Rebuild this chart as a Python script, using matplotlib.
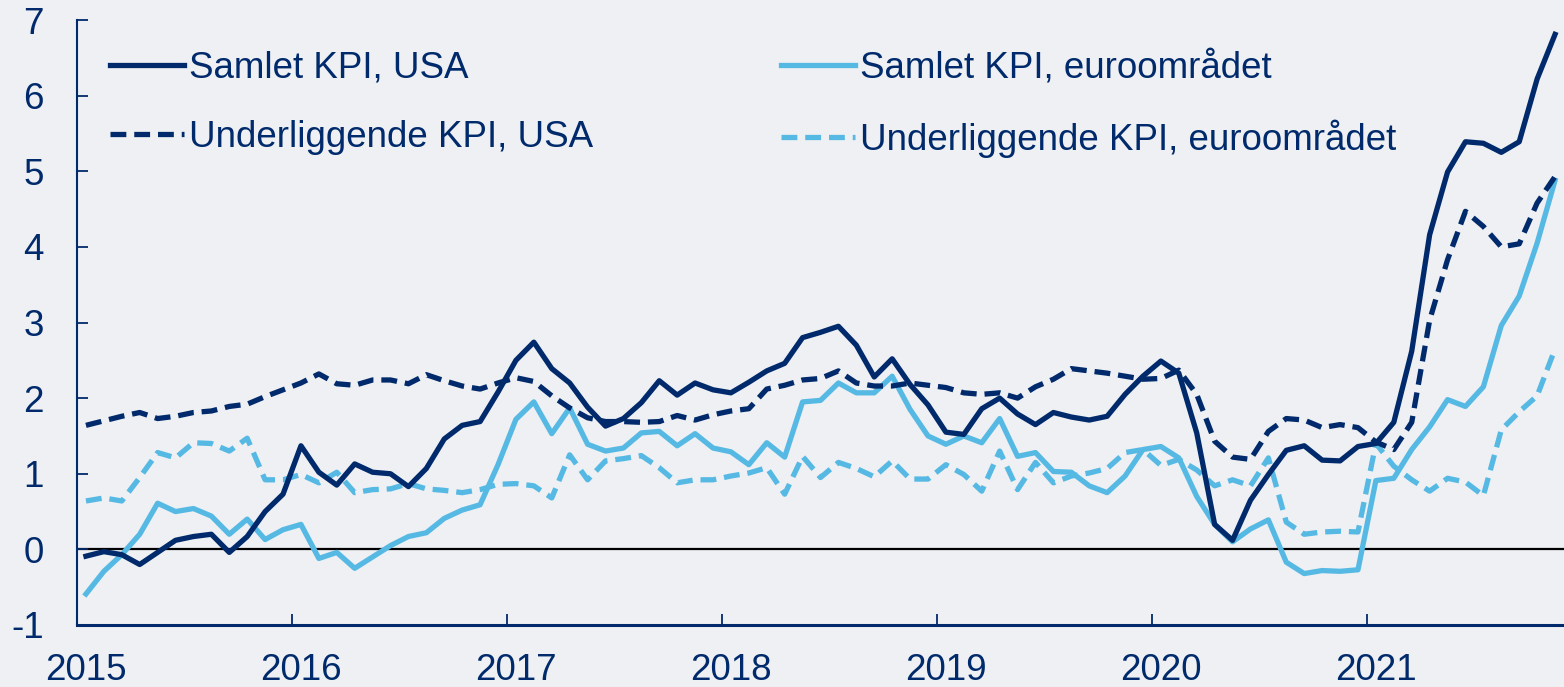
import numpy as np
from matplotlib import pyplot as plt

# monthly data, Jan 2015 - Nov 2021
years = ['2015', '2016', '2017', '2018', '2019', '2020', '2021']

us_total = [-0.09, -0.03, -0.07, -0.2, -0.04, 0.12, 0.17, 0.2, -0.04, 0.17, 0.5, 0.73,
            1.37, 1.02, 0.85, 1.13, 1.02, 1.0, 0.83, 1.07, 1.46, 1.64, 1.69, 2.08,
            2.5, 2.74, 2.39, 2.2, 1.88, 1.63, 1.73, 1.94, 2.23, 2.04, 2.2, 2.11,
            2.07, 2.21, 2.36, 2.46, 2.8, 2.87, 2.95, 2.7, 2.28, 2.52, 2.18, 1.91,
            1.55, 1.52, 1.86, 2.0, 1.79, 1.65, 1.81, 1.75, 1.71, 1.76, 2.05, 2.29,
            2.49, 2.33, 1.54, 0.33, 0.12, 0.65, 0.99, 1.31, 1.37, 1.18, 1.17, 1.36,
            1.4, 1.68, 2.62, 4.16, 4.99, 5.39, 5.37, 5.25, 5.39, 6.22, 6.81]

us_core = [1.64, 1.70, 1.76, 1.81, 1.73, 1.76, 1.81, 1.83, 1.89, 1.92, 2.02, 2.11,
           2.2, 2.32, 2.19, 2.17, 2.24, 2.24, 2.19, 2.31, 2.23, 2.16, 2.12, 2.2,
           2.27, 2.22, 2.03, 1.87, 1.74, 1.69, 1.69, 1.68, 1.69, 1.77, 1.71, 1.78,
           1.83, 1.86, 2.12, 2.17, 2.24, 2.26, 2.36, 2.2, 2.16, 2.16, 2.2, 2.17,
           2.14, 2.07, 2.05, 2.07, 2.0, 2.15, 2.25, 2.39, 2.36, 2.33, 2.29, 2.25,
           2.26, 2.37, 2.05, 1.43, 1.22, 1.19, 1.56, 1.73, 1.71, 1.61, 1.65, 1.61,
           1.42, 1.32, 1.68, 3.03, 3.83, 4.47, 4.27, 4.0, 4.04, 4.58, 4.93]

eu_total = [-0.59, -0.29, -0.07, 0.2, 0.61, 0.5, 0.54, 0.44, 0.2, 0.4, 0.13, 0.26,
            0.33, -0.12, -0.04, -0.25, -0.1, 0.05, 0.17, 0.22, 0.41, 0.52, 0.59, 1.12,
            1.72, 1.95, 1.53, 1.87, 1.39, 1.3, 1.34, 1.54, 1.56, 1.37, 1.53, 1.34,
            1.29, 1.12, 1.41, 1.22, 1.95, 1.97, 2.2, 2.07, 2.07, 2.29, 1.85, 1.5,
            1.39, 1.5, 1.41, 1.73, 1.23, 1.28, 1.03, 1.02, 0.84, 0.75, 0.97, 1.32,
            1.36, 1.21, 0.7, 0.33, 0.1, 0.27, 0.39, -0.17, -0.32, -0.28, -0.29, -0.27,
            0.91, 0.94, 1.32, 1.62, 1.98, 1.89, 2.15, 2.96, 3.35, 4.05, 4.88]

eu_core = [0.64, 0.68, 0.64, 0.95, 1.28, 1.21, 1.41, 1.4, 1.3, 1.47, 0.92, 0.92,
           0.99, 0.88, 1.02, 0.75, 0.79, 0.8, 0.87, 0.8, 0.78, 0.75, 0.79, 0.86,
           0.87, 0.84, 0.68, 1.25, 0.92, 1.17, 1.2, 1.24, 1.08, 0.88, 0.92, 0.92,
           0.97, 1.01, 1.08, 0.73, 1.23, 0.95, 1.15, 1.07, 0.96, 1.17, 0.93, 0.93,
           1.12, 0.99, 0.77, 1.3, 0.79, 1.15, 0.88, 0.97, 1.01, 1.07, 1.28, 1.32,
           1.11, 1.19, 1.05, 0.84, 0.92, 0.84, 1.21, 0.36, 0.2, 0.23, 0.24, 0.23,
           1.4, 1.1, 0.92, 0.77, 0.94, 0.89, 0.71, 1.58, 1.82, 2.03, 2.65]

navy = '#002A6B'
light = '#56B9E4'
bg = '#EEF0F3'
fs = 26.5

plt.rcParams['font.family'] = ['Liberation Sans', 'DejaVu Sans']

fig = plt.figure(figsize=(15.64, 6.87), dpi=100, facecolor=bg)
ax = fig.add_axes([77 / 1564, 62 / 687, 1 - 77 / 1564, (625 - 20) / 687])
ax.set_facecolor(bg)

x = np.arange(len(us_total)) + 0.5
lw = 3.8
ax.axhline(0, color='black', lw=1.6, zorder=1)
ax.plot(x, us_total, color=navy, lw=lw, label='Samlet KPI, USA', zorder=3)
ax.plot(x, us_core, color=navy, lw=lw, dashes=(3.0, 1.5), label='Underliggende KPI, USA', zorder=3)
ax.plot(x, eu_total, color=light, lw=lw, label='Samlet KPI, euroområdet', zorder=2)
ax.plot(x, eu_core, color=light, lw=lw, dashes=(3.0, 1.5), label='Underliggende KPI, euroområdet', zorder=2)

ax.set_xlim(0, 83)
ax.set_ylim(-1, 7)
ax.set_yticks(range(-1, 8))
ax.set_yticklabels([str(v) for v in range(-1, 8)])
ax.set_xticks([12 * k for k in range(len(years))])
ax.set_xticklabels([])
ax.set_xticks([12 * k + 0.5 for k in range(len(years))], minor=True)
ax.set_xticklabels(years, minor=True)

ax.tick_params(axis='both', which='major', direction='in', length=8, width=1.3, color=navy,
               labelsize=fs, labelcolor=navy)
ax.tick_params(axis='y', pad=24)
ax.tick_params(axis='x', which='minor', length=0, labelsize=fs, labelcolor=navy, pad=20)

for s in ['top', 'right']:
    ax.spines[s].set_visible(False)
ax.spines['left'].set_color(navy)
ax.spines['left'].set_linewidth(1.5)
ax.spines['bottom'].set_color(navy)
ax.spines['bottom'].set_linewidth(2.2)

handles, labels = ax.get_legend_handles_labels()
leg = fig.legend(handles, labels, ncol=2,
                 loc='upper left', bbox_to_anchor=(110 / 1564, 1 - 51 / 687),
                 frameon=False, fontsize=fs, handlelength=2.0, handletextpad=0.15,
                 columnspacing=5.1, labelspacing=0.92, borderpad=0, borderaxespad=0)
for t in leg.get_texts():
    t.set_color(navy)

fig.savefig('out.png', dpi=100, facecolor=bg)
